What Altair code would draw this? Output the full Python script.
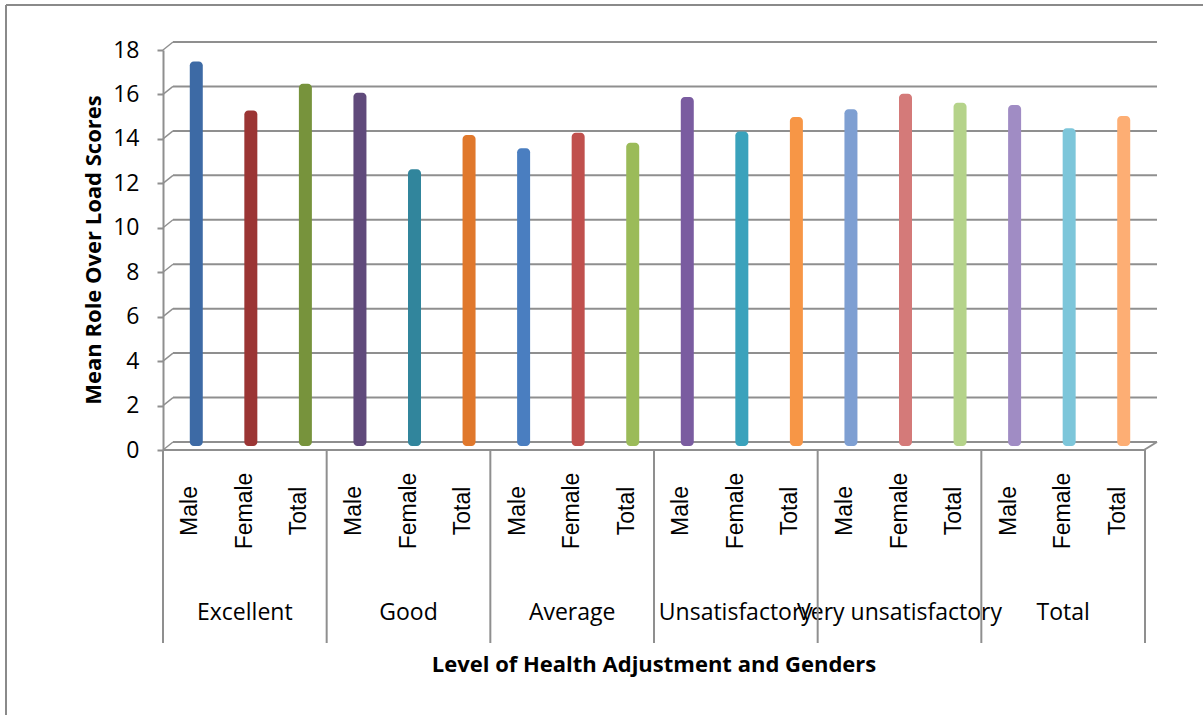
import altair as alt
import pandas as pd

groups = ["Excellent", "Good", "Average", "Unsatisfactory", "Very unsatisfactory", "Total"]
subs = ["Male", "Female", "Total"]
values = [17.3, 15.1, 16.3,
          15.9, 12.45, 14.0,
          13.4, 14.1, 13.65,
          15.7, 14.15, 14.8,
          15.15, 15.85, 15.45,
          15.35, 14.3, 14.85]
colors = ["#3D6AA5", "#9B3534", "#77933C",
          "#604A7B", "#31859C", "#E0782C",
          "#4A7EC0", "#C0504D", "#9BBB59",
          "#7A5CA0", "#3AA2BC", "#F79646",
          "#7E9FD2", "#D47A79", "#B5D38A",
          "#A08CC4", "#7DC6DA", "#FDAE74"]
y_ticks = [0, 2, 4, 6, 8, 10, 12, 14, 16, 18]

W, H = 982, 400
BAND = W / 18.0
GRID = "#8f8f8f"

keys, grp, sub = [], [], []
for g in groups:
    for s in subs:
        keys.append(g + "|" + s)
        grp.append(g)
        sub.append(s)

bars_df = pd.DataFrame({"key": keys, "group": grp, "sub": sub, "value": values})
grid_df = pd.DataFrame({"v": y_ticks})
group_df = pd.DataFrame({"key": [g + "|Female" for g in groups], "label": groups})
start_df = pd.DataFrame({"key": [g + "|Male" for g in groups]})
end_df = pd.DataFrame({"key": [groups[-1] + "|Total"]})

xs = alt.Scale(domain=keys, paddingInner=0, paddingOuter=0)
ys = alt.Scale(domain=[0, 18], nice=False)
X = alt.X("key:N", scale=xs, axis=None)

base_axis = alt.Axis(values=y_ticks, domainColor=GRID, domainWidth=2, tickColor=GRID,
                     tickWidth=2, tickSize=6, labelFont="Open Sans", labelFontSize=23,
                     labelColor="#000000", labelPadding=18, grid=False, title=None)

# frame (left and top edges)
frame_left = alt.Chart(grid_df.head(1)).mark_rule(color="#8a8a8a", strokeWidth=2).encode(
    x=alt.value(-157), y=alt.value(-45), y2=alt.value(700))
frame_top = alt.Chart(grid_df.head(1)).mark_rule(color="#8a8a8a", strokeWidth=2).encode(
    x=alt.value(-157), x2=alt.value(1050), y=alt.value(-45))

# back-wall gridlines
grid = alt.Chart(grid_df).mark_rule(color=GRID, strokeWidth=2, yOffset=-8).encode(
    y=alt.Y("v:Q", scale=ys, axis=base_axis),
    x=alt.value(10), x2=alt.value(W + 12))
conn = alt.Chart(grid_df).mark_rule(color=GRID, strokeWidth=1.5, y2Offset=-8).encode(
    y=alt.Y("v:Q", scale=ys), y2="v:Q", x=alt.value(0), x2=alt.value(10))

# floor front edge and right edge
floor_front = alt.Chart(grid_df.head(1)).mark_rule(color=GRID, strokeWidth=2).encode(
    y=alt.datum(0, scale=ys), x=alt.value(0), x2=alt.value(W - 1))
floor_right = alt.Chart(grid_df.head(1)).mark_rule(color=GRID, strokeWidth=2, y2Offset=-8).encode(
    y=alt.datum(0, scale=ys), y2=alt.datum(0), x=alt.value(W - 1), x2=alt.value(W + 12))

bars = alt.Chart(bars_df).mark_bar(size=13, xOffset=6, yOffset=-4, y2Offset=-4,
                                   cornerRadius=4).encode(
    x=X,
    y=alt.Y("value:Q", scale=ys),
    y2=alt.datum(0),
    color=alt.Color("key:N", scale=alt.Scale(domain=keys, range=colors), legend=None))

sub_text = alt.Chart(bars_df).mark_text(angle=270, align="center", baseline="middle",
                                        font="Liberation Sans", fontSize=23,
                                        color="#000000").encode(
    x=X, y=alt.value(461), text="sub:N")

group_text = alt.Chart(group_df).mark_text(align="center", baseline="middle",
                                           font="Open Sans", fontSize=23,
                                           color="#000000").encode(
    x=X, y=alt.value(563), text="label:N")

sep_start = alt.Chart(start_df).mark_rule(color=GRID, strokeWidth=2, xOffset=-BAND / 2).encode(
    x=X, y=alt.value(400), y2=alt.value(593))
sep_end = alt.Chart(end_df).mark_rule(color=GRID, strokeWidth=2, xOffset=BAND / 2).encode(
    x=X, y=alt.value(400), y2=alt.value(593))

x_title = alt.Chart(grid_df.head(1)).mark_text(align="center", baseline="middle",
                                               font="Open Sans", fontWeight="bold",
                                               fontSize=22, color="#000000").encode(
    x=alt.value(W / 2), y=alt.value(615), text=alt.value("Level of Health Adjustment and Genders"))
y_title = alt.Chart(grid_df.head(1)).mark_text(align="center", baseline="middle", angle=270,
                                               font="Open Sans", fontWeight="bold",
                                               fontSize=22, color="#000000").encode(
    x=alt.value(-69), y=alt.value(200), text=alt.value("Mean Role Over Load Scores"))

chart = alt.layer(frame_left, frame_top, grid, conn, floor_front, floor_right, bars,
                  sub_text, group_text, sep_start, sep_end, x_title, y_title).properties(
    width=W, height=H,
    autosize=alt.AutoSizeParams(type="none"),
    padding={"left": 163, "top": 50, "right": 58, "bottom": 265},
    background="#ffffff",
).configure_view(stroke=None)

chart.save("out.html", embed_options={"renderer": "svg", "actions": False})
